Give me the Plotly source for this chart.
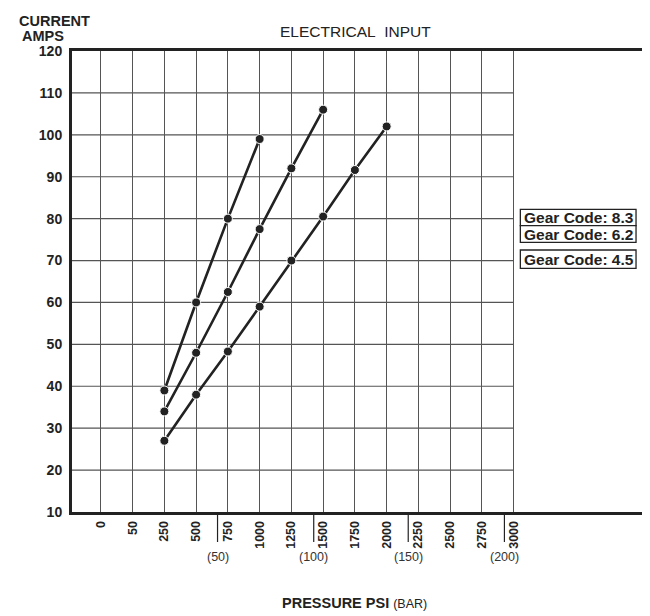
import plotly.graph_objects as go

# ---------------- data ----------------
x_labels = ["0", "50", "250", "500", "750", "1000", "1250", "1500",
            "1750", "2000", "2250", "2500", "2750", "3000"]
y_ticks = [10, 20, 30, 40, 50, 60, 70, 80, 90, 100, 110, 120]

gear_83_psi = [250, 500, 750, 1000]
gear_83_amps = [39, 60, 80, 99]

gear_62_psi = [250, 500, 750, 1000, 1250, 1500]
gear_62_amps = [34, 48, 62.5, 77.5, 92, 106]

gear_45_psi = [250, 500, 750, 1000, 1250, 1500, 1750, 2000]
gear_45_amps = [27, 38, 48.3, 59, 70, 80.5, 91.6, 102]

legend_labels = ["Gear Code: 8.3", "Gear Code: 6.2", "Gear Code: 4.5"]
bar_labels = ["(50)", "(100)", "(150)", "(200)"]

# ---------------- layout helpers ----------------
# the page body has an 8px margin, so the figure is drawn 8px smaller
OFF = 8
W, H = 650 - OFF, 616 - OFF
L, R, T, B = 72, 645, 51, 512          # plot box in screen pixels
PW, PH = R - L, B - T


def px(x):
    return (x - L) / PW


def py(y):
    return (B - y) / PH


step = (516 - 101) / 13.0
x_lo = -(101 - L) / step
x_hi = x_lo + PW / step


def idx(vals):
    return [x_labels.index(str(v)) for v in vals]


FONT = "Arial, Liberation Sans, Helvetica, sans-serif"
INK = "#222222"
GRID = "#555555"

fig = go.Figure()
for psi, amps, name in [(gear_83_psi, gear_83_amps, legend_labels[0]),
                        (gear_62_psi, gear_62_amps, legend_labels[1]),
                        (gear_45_psi, gear_45_amps, legend_labels[2])]:
    fig.add_trace(go.Scatter(
        x=idx(psi), y=amps, mode="lines+markers", name=name,
        line=dict(color=INK, width=2.6),
        marker=dict(color=INK, size=9, line=dict(color="white", width=1)),
        showlegend=False, cliponaxis=False))

shapes = []
# horizontal grid lines stop at the 3000 column
for yv in y_ticks[1:-1]:
    shapes.append(dict(type="line", xref="x", yref="y", x0=x_lo, x1=len(x_labels) - 1,
                       y0=yv, y1=yv, line=dict(color=GRID, width=1.2), layer="below"))

# bar tick marks below the axis
bar_px = [218.3, 315, 410, 506.7]
for bx in bar_px:
    shapes.append(dict(type="line", xref="paper", yref="paper", x0=px(bx), x1=px(bx),
                       y0=py(513), y1=py(542), line=dict(color=INK, width=1.2)))

# legend boxes
boxes = [(209.3, 225.7), (225.7, 242.3), (250, 268.3)]
for (y0, y1) in boxes:
    shapes.append(dict(type="rect", xref="paper", yref="paper", x0=px(522.7), x1=px(639),
                       y0=py(y1), y1=py(y0), line=dict(color=INK, width=1.3),
                       fillcolor="white"))

annotations = []
for (y0, y1), lab in zip(boxes, legend_labels):
    annotations.append(dict(xref="paper", yref="paper", x=px(524.5), y=py((y0 + y1) / 2),
                            text="<b>" + lab + "</b>", showarrow=False,
                            xanchor="left", yanchor="middle",
                            font=dict(family=FONT, size=15.5, color=INK)))

for bx, lab in zip(bar_px, bar_labels):
    annotations.append(dict(xref="paper", yref="paper", x=px(bx), y=py(557),
                            text=lab, showarrow=False, xanchor="center", yanchor="middle",
                            font=dict(family=FONT, size=12.5, color="#333333")))

annotations += [
    dict(xref="paper", yref="paper", x=px(17), y=py(20.5), text="<b>CURRENT</b>",
         showarrow=False, xanchor="left", yanchor="middle",
         font=dict(family=FONT, size=14.5, color=INK)),
    dict(xref="paper", yref="paper", x=px(20), y=py(36.5), text="<b>AMPS</b>",
         showarrow=False, xanchor="left", yanchor="middle",
         font=dict(family=FONT, size=14.5, color=INK)),
    dict(xref="paper", yref="paper", x=px(357), y=py(31),
         text="ELECTRICAL\u00a0\u00a0INPUT", showarrow=False,
         xanchor="center", yanchor="middle",
         font=dict(family=FONT, size=15.5, color=INK)),
    dict(xref="paper", yref="paper", x=px(356), y=py(603),
         text="<b>PRESSURE PSI</b> <span style='font-size:12.5px'>(BAR)</span>",
         showarrow=False, xanchor="center", yanchor="middle",
         font=dict(family=FONT, size=14.5, color=INK)),
]

fig.update_layout(
    width=W, height=H,
    margin=dict(l=L - OFF, r=W - (R - OFF), t=T - OFF, b=H - (B - OFF), pad=0),
    paper_bgcolor="white", plot_bgcolor="white",
    shapes=shapes, annotations=annotations,
    showlegend=False,
    xaxis=dict(range=[x_lo, x_hi], tickmode="array",
               tickvals=list(range(len(x_labels))),
               ticktext=["<b>" + t + "</b>" for t in x_labels],
               tickangle=-90, tickfont=dict(family=FONT, size=12.5, color=INK),
               showgrid=True, gridcolor=GRID, gridwidth=1.2,
               zeroline=False, showline=True, mirror=True,
               linecolor=INK, linewidth=3, ticks="", ticklabelstandoff=1),
    yaxis=dict(range=[10, 120], tickmode="array", tickvals=y_ticks,
               ticktext=["<b>%d</b>" % v for v in y_ticks],
               tickfont=dict(family=FONT, size=14, color=INK),
               showgrid=False, zeroline=False, showline=True, mirror=True,
               linecolor=INK, linewidth=3, ticks="", ticklabelstandoff=4),
)

fig.write_html("out.html")
